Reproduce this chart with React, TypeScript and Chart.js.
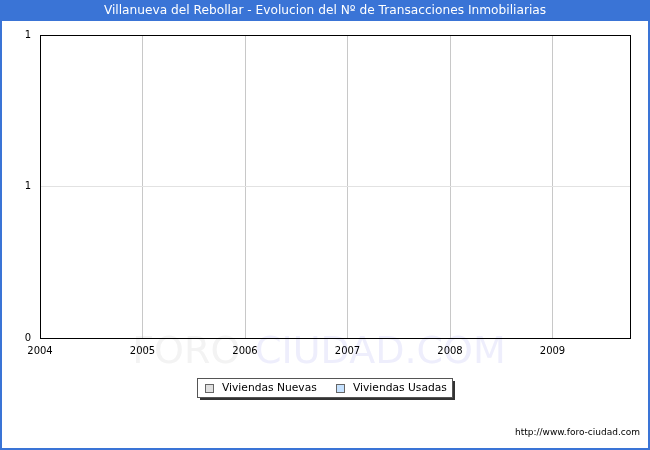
import { useEffect, useRef } from "react"
import { Chart, registerables } from "chart.js"

Chart.register(...registerables)

const TITLE = "Villanueva del Rebollar - Evolucion del Nº de Transacciones Inmobiliarias"
const YEARS = [2004, 2005, 2006, 2007, 2008, 2009]
const NUEVAS = [0, 0, 0, 0, 0, 0]
const USADAS = [0, 0, 0, 0, 0, 0]
const SERIES_LABELS = ["Viviendas Nuevas", "Viviendas Usadas"]
const SERIES_COLORS = ["#e0e0e0", "#c6e2ff"]
const Y_TICKS = [0, 0.5, 1]

const FONT = "DejaVu Sans"
const BLUE = "#3a74d6"

const decorPlugin = {
  id: "decor",
  beforeDraw(chart: Chart) {
    const { ctx, width } = chart
    ctx.save()
    ctx.fillStyle = "#ffffff"
    ctx.fillRect(0, 0, chart.width, chart.height)
    // title bar
    ctx.fillStyle = BLUE
    ctx.fillRect(0, 0, width, 21)
    ctx.fillStyle = "#ffffff"
    ctx.font = `12.2px "${FONT}"`
    ctx.textAlign = "center"
    ctx.textBaseline = "middle"
    ctx.fillText(TITLE, width / 2, 11)
    // watermark
    ctx.font = `38px "${FONT}"`
    ctx.textAlign = "left"
    const a = "FORO-"
    const b = "CIUDAD.COM"
    const wa = ctx.measureText(a).width
    const wb = ctx.measureText(b).width
    const x0 = 319 - (wa + wb) / 2
    ctx.fillStyle = "#f3f3f3"
    ctx.fillText(a, x0, 353)
    ctx.fillStyle = "#eeeefc"
    ctx.fillText(b, x0 + wa, 353)
    ctx.restore()
  },
  afterDraw(chart: Chart) {
    const { ctx, chartArea, width, height } = chart
    ctx.save()
    // plot border
    ctx.strokeStyle = "#000000"
    ctx.lineWidth = 1
    ctx.strokeRect(
      Math.round(chartArea.left) + 0.5,
      Math.round(chartArea.top) + 0.5,
      Math.round(chartArea.right - chartArea.left),
      Math.round(chartArea.bottom - chartArea.top)
    )
    // legend
    const lx = 197
    const ly = 378
    const lw = 255
    const lh = 19
    ctx.fillStyle = "#333333"
    ctx.fillRect(lx + 3, ly + 3, lw, lh)
    ctx.fillStyle = "#ffffff"
    ctx.fillRect(lx, ly, lw, lh)
    ctx.strokeStyle = "#555555"
    ctx.strokeRect(lx + 0.5, ly + 0.5, lw, lh)
    ctx.font = `10.7px "${FONT}"`
    ctx.textBaseline = "middle"
    ctx.textAlign = "left"
    const itemX = [205, 336]
    chart.data.datasets.forEach((ds, i) => {
      const sx = itemX[i]
      ctx.fillStyle = SERIES_COLORS[i]
      ctx.fillRect(sx, ly + 6, 8, 8)
      ctx.strokeStyle = "#666666"
      ctx.strokeRect(sx + 0.5, ly + 6.5, 8, 8)
      ctx.fillStyle = "#000000"
      ctx.fillText(String(ds.label), sx + 17, ly + 10)
    })
    // url
    ctx.font = `9px "${FONT}"`
    ctx.textAlign = "right"
    ctx.fillStyle = "#000000"
    ctx.fillText("http://www.foro-ciudad.com", 640, 433)
    // outer border
    ctx.strokeStyle = BLUE
    ctx.lineWidth = 2
    ctx.beginPath()
    ctx.moveTo(1, 0)
    ctx.lineTo(1, height - 1)
    ctx.lineTo(width - 1, height - 1)
    ctx.lineTo(width - 1, 0)
    ctx.stroke()
    ctx.restore()
  },
}

export default function App() {
  const chartRef = useRef<HTMLCanvasElement>(null)
  const chartInstance = useRef<Chart | null>(null)

  useEffect(() => {
    document.body.style.margin = "0"
    if (!chartRef.current) return
    if (chartInstance.current) chartInstance.current.destroy()
    const ctx = chartRef.current.getContext("2d")
    if (!ctx) return

    chartInstance.current = new Chart(ctx, {
      type: "bar",
      data: {
        datasets: [
          {
            label: SERIES_LABELS[0],
            data: YEARS.map((y, i) => ({ x: y, y: NUEVAS[i] })),
            backgroundColor: SERIES_COLORS[0],
            borderWidth: 0,
          },
          {
            label: SERIES_LABELS[1],
            data: YEARS.map((y, i) => ({ x: y, y: USADAS[i] })),
            backgroundColor: SERIES_COLORS[1],
            borderWidth: 0,
          },
        ],
      },
      options: {
        responsive: false,
        animation: false,
        devicePixelRatio: 1,
        layout: { padding: { top: 35, right: 20, bottom: 92, left: 0 } },
        plugins: {
          legend: { display: false },
          tooltip: { enabled: false },
        },
        scales: {
          x: {
            type: "linear",
            offset: false,
            min: YEARS[0],
            max: 2009.756,
            afterFit: (s: any) => {
              s.height = 20
            },
            afterBuildTicks: (s: any) => {
              s.ticks = YEARS.map((v) => ({ value: v }))
            },
            grid: { color: "#c8c8c8", drawTicks: false, offset: false },
            border: { display: false },
            ticks: {
              padding: 7,
              maxRotation: 0,
              autoSkip: false,
              color: "#000000",
              font: { family: FONT, size: 10 },
              callback: (v: any) => String(v),
            },
          },
          y: {
            min: 0,
            max: 1,
            afterFit: (s: any) => {
              s.width = 40
            },
            afterBuildTicks: (s: any) => {
              s.ticks = Y_TICKS.map((v) => ({ value: v }))
            },
            grid: { color: "#e2e2e2", drawTicks: false },
            border: { display: false },
            ticks: {
              padding: 9,
              color: "#000000",
              font: { family: FONT, size: 10 },
              callback: (v: any) => String(Math.round(Number(v))),
            },
          },
        },
      },
      plugins: [decorPlugin],
    })

    return () => {
      if (chartInstance.current) {
        chartInstance.current.destroy()
        chartInstance.current = null
      }
    }
  }, [])

  return (
    <div style={{ width: 650, height: 450 }}>
      <canvas ref={chartRef} width={650} height={450} />
    </div>
  )
}
